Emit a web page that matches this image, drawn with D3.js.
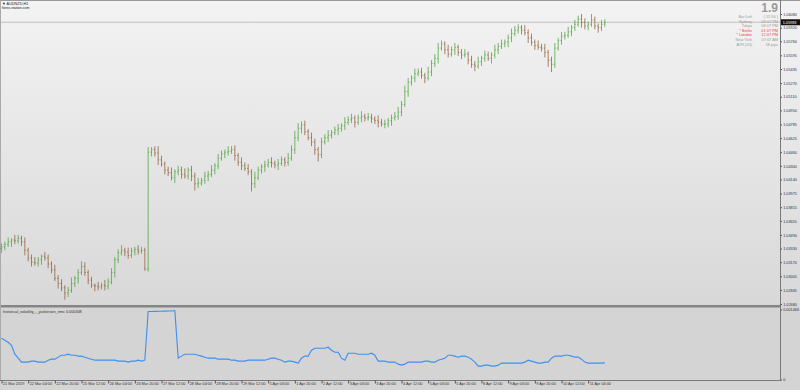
<!DOCTYPE html>
<html>
<head>
<meta charset="utf-8">
<script src="https://cdn.jsdelivr.net/npm/d3@7"></script>
<style>
  body { margin: 0; background: #fff; }
  svg { display: block; font-family: "Liberation Sans", Arial, sans-serif; }
</style>
</head>
<body>
<svg width="800" height="390"></svg>
<script>
// AUDNZD 2h bars, prices kept in pips above 1.0000
var firstOpen = 333;
var closes = [
  335,338,341,343,342,345,341,331,322,317,
  316,320,324,322,315,308,298,292,287,281,
  284,292,298,305,312,305,296,290,289,288,
  290,289,294,305,320,328,331,329,325,330,
  332,330,331,309,446,449,445,437,432,425,
  422,416,423,425,420,418,425,418,409,410,
  413,418,420,425,430,439,444,446,447,449,
  442,434,430,427,423,409,416,425,429,431,
  434,433,431,433,437,434,439,449,463,474,
  478,470,463,458,449,443,458,463,466,469,
  472,474,477,481,484,486,481,486,488,486,
  487,485,483,481,479,479,483,486,488,493,
  502,517,528,533,538,540,536,533,540,550,
  556,568,573,566,561,566,569,563,560,561,
  554,549,547,552,556,560,556,560,566,570,
  573,575,580,585,589,592,589,586,580,575,
  571,569,568,563,554,549,568,577,582,583,
  587,592,596,602,598,594,596,601,594,592,
  596,598
];
var hiWick = [
  4,3,5,2,6,4,3,5,3,4, 6,3,2,5,4,3,6,4,5,3,
  4,7,3,4,6,5,3,4,2,5, 3,6,4,5,3,4,6,3,5,4,
  3,5,4,3,6,3,4,8,5,3, 4,6,3,5,4,7,3,5,4,6,
  3,5,4,6,3,5,4,3,6,4, 5,3,6,4,5,3,7,4,3,5,
  4,6,3,5,4,3,6,5,8,6, 4,5,3,6,4,3,5,4,6,3,
  4,5,3,6,4,5,3,4,6,3, 5,4,3,6,4,5,3,4,5,6,
  4,7,5,3,6,4,5,3,6,4, 5,6,4,3,6,4,5,3,4,6,
  3,5,4,6,3,5,4,3,6,4, 5,3,4,6,5,4,3,6,4,5,
  3,6,4,5,3,4,6,3,5,4, 6,3,5,4,6,5,3,7,4,3,
  5,4
];
var loWick = [
  5,4,3,6,4,3,5,6,4,5, 3,4,6,3,5,4,3,6,4,8,
  5,3,4,6,3,4,5,3,6,4, 3,5,4,3,6,4,3,5,4,3,
  5,4,3,2,3,5,4,6,3,5, 4,3,6,4,5,3,4,6,8,5,
  3,4,6,3,5,4,3,5,4,3, 6,4,5,3,4,9,5,3,4,6,
  3,5,4,6,3,5,4,3,5,4, 6,4,3,5,6,8,4,3,5,4,
  3,6,4,5,3,4,6,3,5,4, 3,5,4,6,3,5,4,6,3,4,
  5,3,6,4,5,3,4,6,3,5, 4,6,3,5,4,3,6,4,5,3,
  5,4,6,3,5,4,3,6,4,5, 3,4,6,5,3,4,5,3,6,4,
  5,3,4,6,8,9,4,3,5,4, 3,5,4,3,6,4,5,3,4,6,
  4,3
];
// historical volatility (parkinson), millionths
var hvMicro = [
  863,821,780,717,530,447,364,364,364,385,
  385,364,364,364,405,426,426,468,509,509,
  530,509,509,489,489,468,447,426,405,405,
  405,405,405,405,405,385,385,385,364,385,
  385,405,385,405,1424,1424,1426,1428,1430,1432,
  1434,1436,1445,447,489,530,530,530,530,509,
  489,468,447,447,447,426,426,426,426,405,
  405,385,385,385,405,405,405,405,405,405,
  426,447,447,426,405,364,385,385,364,343,
  447,489,489,613,655,655,655,655,676,613,
  572,572,447,405,551,551,551,530,530,530,
  530,551,509,385,385,385,364,364,364,322,
  301,322,364,364,364,364,364,385,385,364,
  364,405,426,447,509,509,489,468,489,489,
  468,426,364,281,281,301,301,281,281,301,
  343,343,343,343,343,343,343,364,405,385,
  364,343,343,364,364,447,489,489,489,509,
  509,489,468,468,426,364,343,343,343,343,
  343,348
];
var priceTicks = [1.06080,1.05920,1.05760,1.05595,1.05435,1.05270,1.05110,1.04950,
  1.04785,1.04625,1.04460,1.04300,1.04140,1.03975,1.03815,1.03655,1.03490,1.03330,
  1.03170,1.03005,1.02845,1.02680];
var timeLabels = ["21 Mar 2019","22 Mar 04:00","22 Mar 20:00","25 Mar 12:00","26 Mar 04:00",
  "26 Mar 20:00","27 Mar 12:00","28 Mar 04:00","28 Mar 20:00","29 Mar 12:00","1 Apr 04:00",
  "1 Apr 20:00","2 Apr 12:00","3 Apr 04:00","3 Apr 20:00","4 Apr 12:00","5 Apr 04:00",
  "5 Apr 20:00","8 Apr 12:00","9 Apr 04:00","9 Apr 20:00","10 Apr 12:00","11 Apr 04:00"];
var bidPrice = 1.05983;
var hvMax = 0.001466;
var infoRows = [["Bar Left","( 52:56 )",0],["Sydney","09:07 PM",0],["Tokyo","08:07 PM",0],
  ["* Berlin","01:07 PM",1],["* London","12:07 PM",1],["New York","07:07 AM",0],["ATR (20)","18 pips",0]];

var bars = closes.map(function(c, i) {
  var o = i === 0 ? firstOpen : closes[i - 1];
  return {
    i: i,
    o: 1 + o / 10000,
    c: 1 + c / 10000,
    h: 1 + (Math.max(o, c) + hiWick[i]) / 10000,
    l: 1 + (Math.min(o, c) - loWick[i]) / 10000
  };
});

var svg = d3.select("svg");
var axisX = 780;
var small = 3.8;

var x = d3.scaleLinear().domain([0, 240]).range([1.5, 801.5]);
var y = d3.scaleLinear().domain([1.02680, 1.06080]).range([304, 14]);
var yv = d3.scaleLinear().domain([0, hvMax]).range([379.5, 309.5]);

var defs = svg.append("defs");
var grad = defs.append("linearGradient").attr("id", "bg").attr("x1", 0).attr("y1", 0).attr("x2", 0).attr("y2", 1);
grad.append("stop").attr("offset", "0%").attr("stop-color", "#f3f3f3");
grad.append("stop").attr("offset", "100%").attr("stop-color", "#d8d8d8");

// backgrounds
svg.append("rect").attr("width", 800).attr("height", 306).attr("fill", "url(#bg)");
svg.append("rect").attr("y", 306).attr("width", 800).attr("height", 84).attr("fill", "#d4d4d4");
svg.append("rect").attr("y", 305).attr("width", axisX).attr("height", 2.5).attr("fill", "#858585");
svg.append("line").attr("x1", 0).attr("x2", 800).attr("y1", 0.5).attr("y2", 0.5).attr("stroke", "#999");
svg.append("line").attr("x1", 0.5).attr("x2", 0.5).attr("y1", 0).attr("y2", 380).attr("stroke", "#aaa");

// bid line
svg.append("line").attr("x1", 0).attr("x2", axisX).attr("y1", y(bidPrice)).attr("y2", y(bidPrice))
  .attr("stroke", "#b4b4b4").attr("stroke-width", 0.8);

// OHLC bars
var g = svg.append("g");
var bar = g.selectAll("g.bar").data(bars).enter().append("g")
  .attr("stroke", function(d) { return d.c >= d.o ? "#45a032" : "#8c5a32"; })
  .attr("stroke-opacity", 0.8)
  .attr("stroke-width", 0.9);
bar.append("line")
  .attr("x1", function(d) { return x(d.i); }).attr("x2", function(d) { return x(d.i); })
  .attr("y1", function(d) { return y(d.h); }).attr("y2", function(d) { return y(d.l); });
bar.append("line")
  .attr("x1", function(d) { return x(d.i) - 1; }).attr("x2", function(d) { return x(d.i); })
  .attr("y1", function(d) { return y(d.o); }).attr("y2", function(d) { return y(d.o); });
bar.append("line")
  .attr("x1", function(d) { return x(d.i); }).attr("x2", function(d) { return x(d.i) + 1; })
  .attr("y1", function(d) { return y(d.c); }).attr("y2", function(d) { return y(d.c); });

// volatility line
svg.append("path").datum(hvMicro)
  .attr("fill", "none").attr("stroke", "#3d8ff0").attr("stroke-width", 1.1)
  .attr("d", d3.line().x(function(d, i) { return x(i); }).y(function(d) { return yv(d / 1e6); }));

// price axis
svg.append("line").attr("x1", axisX + 0.5).attr("x2", axisX + 0.5).attr("y1", 0).attr("y2", 381)
  .attr("stroke", "#7a7a7a");
var pa = svg.append("g").attr("transform", "translate(" + (axisX + 0.5) + ",0)")
  .call(d3.axisRight(y).tickValues(priceTicks).tickFormat(d3.format(".5f")).tickSize(1.5).tickPadding(1.2));
var va = svg.append("g").attr("transform", "translate(" + (axisX + 0.5) + ",0)")
  .call(d3.axisRight(yv).tickValues([hvMax, 0]).tickFormat(function(d) { return d === 0 ? "0" : d3.format(".6f")(d); })
    .tickSize(1.5).tickPadding(1.2));

// time axis
svg.append("line").attr("x1", 0).attr("x2", axisX).attr("y1", 380.5).attr("y2", 380.5).attr("stroke", "#7a7a7a");
var ta = svg.append("g").attr("transform", "translate(0,380.5)")
  .call(d3.axisBottom(x).tickValues(timeLabels.map(function(t, k) { return k * 8; }))
    .tickFormat(function(d, k) { return timeLabels[k]; }).tickSize(3).tickPadding(0));
ta.selectAll("text").attr("text-anchor", "start").attr("dx", 1).attr("dy", "0.3em");

[pa, va, ta].forEach(function(a) {
  a.select(".domain").remove();
  a.selectAll("line").attr("stroke", "#555");
  a.selectAll("text").attr("font-size", small).attr("fill", "#333").attr("font-family", "Liberation Sans, Arial, sans-serif");
});

// current price box
svg.append("rect").attr("x", axisX + 1).attr("y", y(bidPrice) - 3).attr("width", 19).attr("height", 6).attr("fill", "#111");
svg.append("text").attr("x", axisX + 2.7).attr("y", y(bidPrice) + 1.4).attr("font-size", small)
  .attr("fill", "#fff").text(bidPrice.toFixed(5));

// titles
svg.append("text").attr("x", 2).attr("y", 5).attr("font-size", 3.8).attr("fill", "#222").text("\u25BC AUDNZD,H1");
svg.append("text").attr("x", 2).attr("y", 9).attr("font-size", 3.6).attr("fill", "#222").text("forex-station.com");
svg.append("text").attr("x", 3).attr("y", 312.5).attr("font-size", small).attr("fill", "#333")
  .text("historical_volatility_-_parkinson_nmc " + (hvMicro[hvMicro.length - 1] / 1e6).toFixed(6));

// info panel
svg.append("text").attr("x", 778).attr("y", 11.8).attr("text-anchor", "end").attr("font-size", 12)
  .attr("font-weight", "bold").attr("fill", "#9a9a9a").text("1.9");
var info = svg.append("g").selectAll("g").data(infoRows).enter().append("g")
  .attr("transform", function(d, i) { return "translate(0," + (17.9 + i * 4.6) + ")"; })
  .attr("font-size", 3.9)
  .attr("fill", function(d) { return d[2] ? "#f03c3c" : "#9a9a9a"; });
info.append("text").attr("x", 752).attr("text-anchor", "end").text(function(d) { return d[0]; });
info.append("text").attr("x", 778).attr("text-anchor", "end").text(function(d) { return d[1]; });
</script>
</body>
</html>
